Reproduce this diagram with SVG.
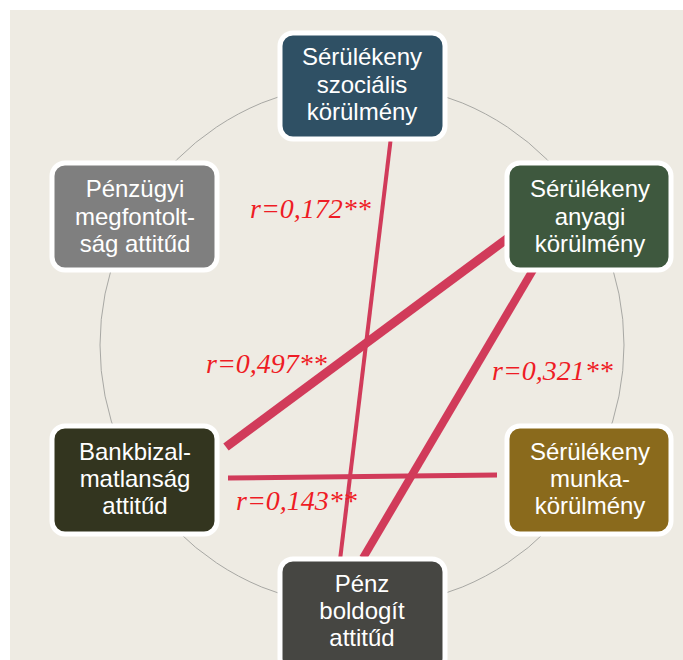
<svg xmlns="http://www.w3.org/2000/svg" width="683" height="660" viewBox="0 0 683 660">
<style>
.box{stroke:#ffffff;stroke-width:5}
.nt{font-family:"Liberation Sans",Arial,sans-serif;font-size:24px;fill:#ffffff;text-anchor:middle}
.lab{font-family:"Liberation Serif","Times New Roman",serif;font-style:italic;font-size:28px;fill:#ee1c25}
.con{stroke:#d13b5a;fill:none}
</style>
<rect x="0" y="0" width="683" height="660" fill="#ffffff"/>
<rect x="10" y="10" width="673" height="650" fill="#eeebe3"/>
<circle cx="362" cy="345" r="262" fill="none" stroke="#a8a8a4" stroke-width="1"/>
<g id="connectors">
<line class="con" x1="390.5" y1="141" x2="340" y2="560" stroke-width="4"/>
<line class="con" x1="508" y1="238" x2="226" y2="447" stroke-width="9"/>
<line class="con" x1="533" y1="270" x2="363" y2="558" stroke-width="8"/>
<line class="con" x1="228" y1="478" x2="497" y2="475" stroke-width="5"/>
</g>
<g id="labels">
<text class="lab" x="250" y="218">r=0,172**</text>
<text class="lab" x="206" y="373">r=0,497**</text>
<text class="lab" x="492" y="380">r=0,321**</text>
<text class="lab" x="236" y="510">r=0,143**</text>
</g>
<g id="node-szocialis">
<rect class="box" x="280" y="33" width="165" height="106" rx="13" fill="#2f5064"/>
<text class="nt" x="362" y="65">Sérülékeny</text>
<text class="nt" x="362" y="93">szociális</text>
<text class="nt" x="362" y="120">körülmény</text>
</g>
<g id="node-penzugyi">
<rect class="box" x="52" y="163" width="165" height="107" rx="13" fill="#7f7f7f"/>
<text class="nt" x="135" y="197">Pénzügyi</text>
<text class="nt" x="135" y="225">megfontolt-</text>
<text class="nt" x="135" y="252">ság attitűd</text>
</g>
<g id="node-anyagi">
<rect class="box" x="507" y="163" width="164" height="107" rx="13" fill="#3e583e"/>
<text class="nt" x="590" y="197">Sérülékeny</text>
<text class="nt" x="590" y="225">anyagi</text>
<text class="nt" x="590" y="252">körülmény</text>
</g>
<g id="node-bankbizalmatlansag">
<rect class="box" x="52" y="426" width="165" height="108" rx="13" fill="#33351f"/>
<text class="nt" x="135" y="460">Bankbizal-</text>
<text class="nt" x="135" y="487">matlanság</text>
<text class="nt" x="135" y="514">attitűd</text>
</g>
<g id="node-munka">
<rect class="box" x="507" y="426" width="164" height="108" rx="13" fill="#8a6a1c"/>
<text class="nt" x="590" y="460">Sérülékeny</text>
<text class="nt" x="590" y="487">munka-</text>
<text class="nt" x="590" y="514">körülmény</text>
</g>
<g id="node-penz-boldogit">
<rect class="box" x="280" y="559" width="165" height="112" rx="13" fill="#464642"/>
<text class="nt" x="362" y="592">Pénz</text>
<text class="nt" x="362" y="619">boldogít</text>
<text class="nt" x="362" y="646">attitűd</text>
</g>
</svg>
